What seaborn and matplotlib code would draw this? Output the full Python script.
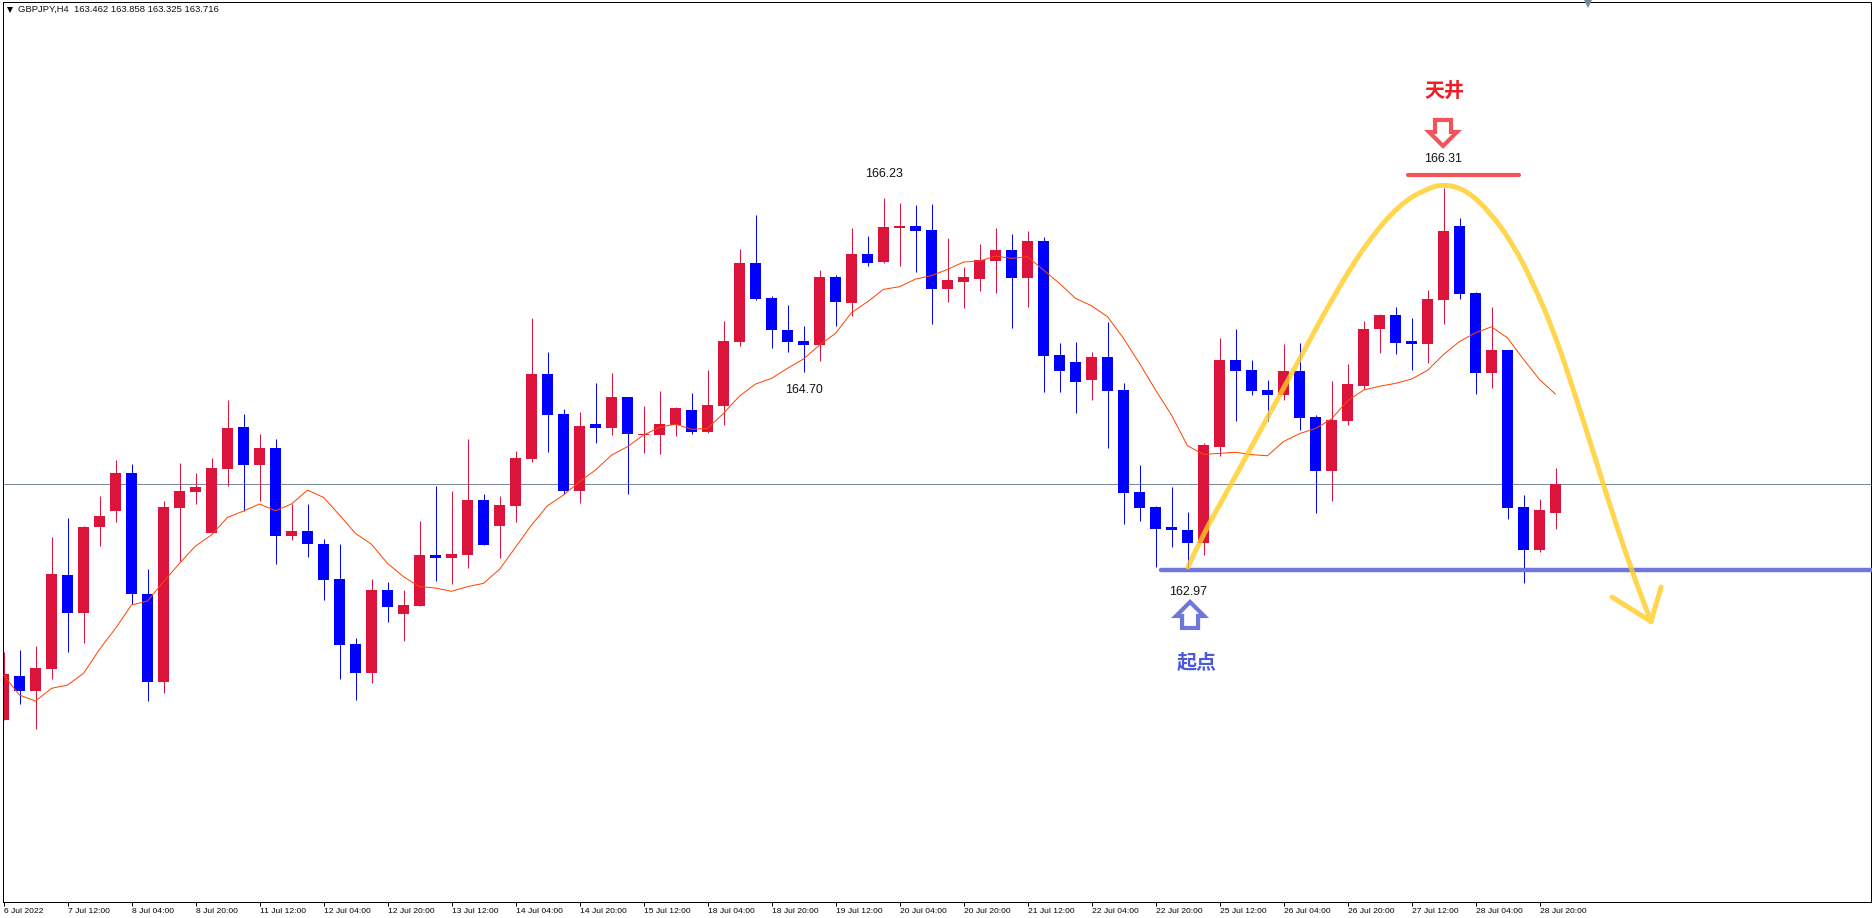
import numpy as np
import matplotlib
matplotlib.use('Agg')
import matplotlib.pyplot as plt
from matplotlib.path import Path
from matplotlib.patches import PathPatch, Polygon
import seaborn as sns

# GBPJPY H4 candles
opens = [161.647,162.033,161.901,162.094,162.919,162.585,163.340,163.480,163.813,162.752,
         161.980,163.506,163.647,163.287,163.849,164.217,163.884,164.033,163.261,163.305,
         163.191,162.884,162.313,162.059,162.787,162.577,162.647,163.095,163.068,163.095,
         163.577,163.349,163.524,163.936,164.682,164.331,163.656,164.243,164.208,164.480,
         164.147,164.147,164.235,164.366,164.173,164.401,164.963,165.656,165.349,165.068,
         164.971,164.936,165.533,165.305,165.735,165.664,165.963,165.980,165.945,165.428,
         165.489,165.515,165.673,165.770,165.524,165.849,164.849,164.787,164.629,164.831,
         164.542,163.647,163.515,163.340,163.314,163.200,164.042,164.804,164.718,164.541,
         164.499,164.707,164.305,163.833,164.270,164.575,165.078,165.200,164.971,164.947,
         165.332,165.980,165.394,164.690,164.894,163.517,163.139,163.462]
highs = [162.243,162.261,162.296,163.252,163.419,163.349,163.612,163.927,163.892,162.971,
         163.568,163.901,163.813,163.945,164.454,164.331,164.156,164.112,163.542,163.542,
         163.235,163.191,162.366,162.884,162.857,162.787,163.393,163.700,163.656,164.112,
         163.630,163.612,164.007,165.173,164.875,164.375,164.349,164.603,164.691,164.480,
         164.401,164.533,164.392,164.515,164.717,165.147,165.778,166.077,165.366,165.287,
         165.103,165.594,165.550,165.963,165.892,166.226,166.182,166.164,166.173,165.875,
         165.621,165.822,165.963,165.910,165.936,165.884,164.954,164.963,164.875,165.138,
         164.603,163.884,163.524,163.691,163.471,164.077,164.998,165.078,164.804,164.627,
         164.947,164.953,164.322,164.620,164.770,165.148,165.210,165.269,165.175,165.418,
         166.310,166.050,165.401,165.269,164.894,163.622,163.587,163.858]
lows = [161.647,161.787,161.568,162.006,162.243,162.322,163.173,163.384,162.664,161.813,
        161.884,163.042,163.542,163.287,163.699,163.480,163.568,163.015,163.226,163.077,
        162.699,162.006,161.822,161.971,162.506,162.340,162.647,162.867,162.840,162.981,
        163.182,163.068,163.384,163.910,163.998,163.629,163.550,164.077,164.147,163.629,
        163.989,163.980,164.138,164.156,164.164,164.235,164.928,165.331,164.910,164.875,
        164.700,164.796,165.103,165.191,165.629,165.656,165.629,165.577,165.121,165.314,
        165.261,165.410,165.392,165.085,165.270,164.524,164.524,164.340,164.454,164.033,
        163.366,163.392,162.989,163.164,162.970,163.094,163.963,164.274,164.499,164.274,
        164.451,164.190,163.459,163.570,164.239,164.555,164.867,164.856,164.718,164.780,
        165.120,165.342,164.503,164.558,163.410,162.851,163.122,163.325]
closes = [162.050,161.901,162.103,162.927,162.585,163.340,163.436,163.813,162.752,161.980,
          163.515,163.656,163.691,163.857,164.208,163.884,164.033,163.261,163.305,163.191,
          162.875,162.305,162.059,162.787,162.638,162.656,163.095,163.068,163.103,163.577,
          163.182,163.533,163.945,164.682,164.322,163.656,164.226,164.208,164.480,164.156,
          164.156,164.243,164.384,164.173,164.410,164.971,165.656,165.340,165.068,164.963,
          164.936,165.533,165.314,165.735,165.656,165.971,165.980,165.936,165.428,165.507,
          165.533,165.682,165.770,165.524,165.849,164.840,164.708,164.612,164.831,164.533,
          163.638,163.507,163.322,163.314,163.200,164.059,164.805,164.707,164.534,164.499,
          164.707,164.298,163.833,164.281,164.596,165.078,165.200,164.953,164.947,165.342,
          165.939,165.384,164.690,164.894,163.507,163.139,163.490,163.716]
moving_avg = [162.042,161.866,161.813,161.925,161.954,162.056,162.267,162.451,162.656,162.691,
              162.860,163.021,163.173,163.270,163.425,163.480,163.542,163.483,163.542,163.664,
              163.600,163.445,163.284,163.188,163.021,162.904,162.817,162.805,162.776,162.817,
              162.846,162.969,163.162,163.358,163.527,163.621,163.738,163.840,163.971,164.045,
              164.147,164.214,164.243,164.197,164.205,164.337,164.489,164.594,164.644,164.732,
              164.814,164.936,165.039,165.220,165.316,165.425,165.448,165.515,165.545,165.600,
              165.664,165.673,165.717,165.697,165.711,165.594,165.477,165.346,165.281,165.185,
              164.995,164.776,164.542,164.322,164.053,163.977,163.986,163.996,163.975,163.965,
              164.090,164.159,164.204,164.288,164.447,164.541,164.575,164.600,164.638,164.714,
              164.853,164.967,165.044,165.096,164.999,164.811,164.634,164.506]

tick_every = 4
tick_labels = ['6 Jul 2022','7 Jul 12:00','8 Jul 04:00','8 Jul 20:00','11 Jul 12:00','12 Jul 04:00',
               '12 Jul 20:00','13 Jul 12:00','14 Jul 04:00','14 Jul 20:00','15 Jul 12:00','18 Jul 04:00',
               '18 Jul 20:00','19 Jul 12:00','20 Jul 04:00','20 Jul 20:00','21 Jul 12:00','22 Jul 04:00',
               '22 Jul 20:00','25 Jul 12:00','26 Jul 04:00','26 Jul 20:00','27 Jul 12:00','28 Jul 04:00',
               '28 Jul 20:00']
header = 'GBPJPY,H4  163.462 163.858 163.325 163.716'

# hand drawn bits, as (bar, price)
curve_bar = [74.03,74.78,76.84,78.97,81.03,83.09,85.22,87.28,88.97,90.09,91.47,92.9,94.34,95.59,
             96.84,98.09,99.34,100.59,101.84,102.97]
curve_price = [162.989,163.226,163.744,164.296,164.818,165.358,165.840,166.174,166.310,166.349,
               166.292,166.103,165.823,165.481,165.077,164.559,164.007,163.446,162.928,162.511]
head_bar = [100.53,102.97,103.6]
head_price = [162.726,162.511,162.814]

PX_PER_BAR = 16
PX_PER_PRICE = 114
RED_MARK = '#F2545B'
BLUE_MARK = '#7077DB'

sns.set_theme(style='white')
plt.rcParams['font.family'] = ['Liberation Sans', 'Noto Sans CJK SC', 'DejaVu Sans']

W, H = 1872, 918
fig = plt.figure(figsize=(W/100, H/100), dpi=100, facecolor='white')
ax = fig.add_axes([2.5/W, 1 - 901.5/H, 1868/W, 900/H])
ax.set_xlim(-1/PX_PER_BAR, 1867/PX_PER_BAR)
ax.set_ylim(167.963 - 901.5/PX_PER_PRICE, 167.963 - 1.5/PX_PER_PRICE)

bars = np.arange(len(opens))
o, h, l, c = map(np.array, (opens, highs, lows, closes))
colors = np.where(c > o, '#DC143C', '#0000FF')

ax.axhline(closes[-1], color='#778899', lw=0.72, zorder=1)
ax.vlines(bars, l, h, colors=colors, lw=0.72, zorder=2)
ax.bar(bars, np.abs(c - o), bottom=np.minimum(o, c), width=11/PX_PER_BAR, color=colors,
       linewidth=0, antialiased=False, zorder=2)
sns.lineplot(x=bars, y=moving_avg, color='#FF4500', lw=0.72, ax=ax, legend=False, errorbar=None, zorder=3)

# support / top lines
ax.plot([72.34, 116.78], [162.960, 162.960], color=BLUE_MARK, lw=3.2, solid_capstyle='round', clip_on=False, zorder=4)
ax.plot([87.78, 94.72], [166.424, 166.424], color=RED_MARK, lw=3, solid_capstyle='round', zorder=4)


def hollow_arrow(tip_bar, tip_price, sign, color):
    # sign=1 points down, sign=-1 points up. offsets in pixels from the tip
    dx = np.array([0, -14, -8, -8, 8, 8, 14])
    dy = np.array([-2, -16, -16, -28, -28, -16, -16])
    pts = np.c_[tip_bar + dx/PX_PER_BAR, tip_price - sign*dy/PX_PER_PRICE]
    ax.add_patch(Polygon(pts, closed=True, fill=False, edgecolor=color, lw=3, joinstyle='miter', zorder=4))


hollow_arrow(89.97, 166.665, 1, RED_MARK)
hollow_arrow(74.16, 162.700, -1, BLUE_MARK)

# yellow curve, smoothed through the midpoints, plus its arrow head
pts = np.c_[curve_bar, curve_price]
verts = [pts[0]]
codes = [Path.MOVETO]
for i in range(1, len(pts) - 1):
    verts += [pts[i], (pts[i] + pts[i + 1])/2]
    codes += [Path.CURVE3, Path.CURVE3]
verts.append(pts[-1])
codes.append(Path.LINETO)
head = np.c_[head_bar, head_price]
verts += list(head)
codes += [Path.MOVETO, Path.LINETO, Path.LINETO]
ax.add_patch(PathPatch(Path(verts, codes), fill=False, edgecolor='#FFCC22', alpha=0.8, lw=3.6,
                       capstyle='round', joinstyle='round', zorder=5))

# price labels
for bar, price, txt in [(89.97, 166.568, '166.31'), (55.03, 166.437, '166.23'),
                        (50.03, 164.542, '164.70'), (74.03, 162.770, '162.97')]:
    ax.text(bar, price, txt, fontsize=8.9, color='#111111', ha='center', va='center', zorder=6)
ax.text(90.09, 167.165, '天井', fontsize=14.4, fontweight='bold', color='#EE1C25', ha='center', va='center', zorder=6)
ax.text(74.59, 162.147, '起点', fontsize=14.4, fontweight='bold', color='#4A5AD8', ha='center', va='center', zorder=6)

ax.set_xticks(bars[::tick_every])
ax.set_xticklabels(tick_labels, fontsize=6.1, color='black', ha='left')
ax.set_yticks([])
ax.set_xlabel('')
ax.set_ylabel('')
ax.tick_params(axis='x', bottom=True, length=3, width=0.72, color='black', pad=1.5)
for s in ax.spines.values():
    s.set_visible(True)
    s.set_color('black')
    s.set_linewidth(0.72)

fig.text(18/W, 1 - 9.5/H, header, fontsize=6.8, color='#111111', ha='left', va='center')
fig.lines.append(plt.Line2D([10/W], [1 - 9.5/H], marker='v', ms=4.5, color='black', mew=0,
                            transform=fig.transFigure, figure=fig))
fig.lines.append(plt.Line2D([1588/W], [1 - 3.5/H], marker='v', ms=6, color='#778899', mew=0,
                            transform=fig.transFigure, figure=fig))

fig.savefig('out.png', dpi=100, facecolor='white')
